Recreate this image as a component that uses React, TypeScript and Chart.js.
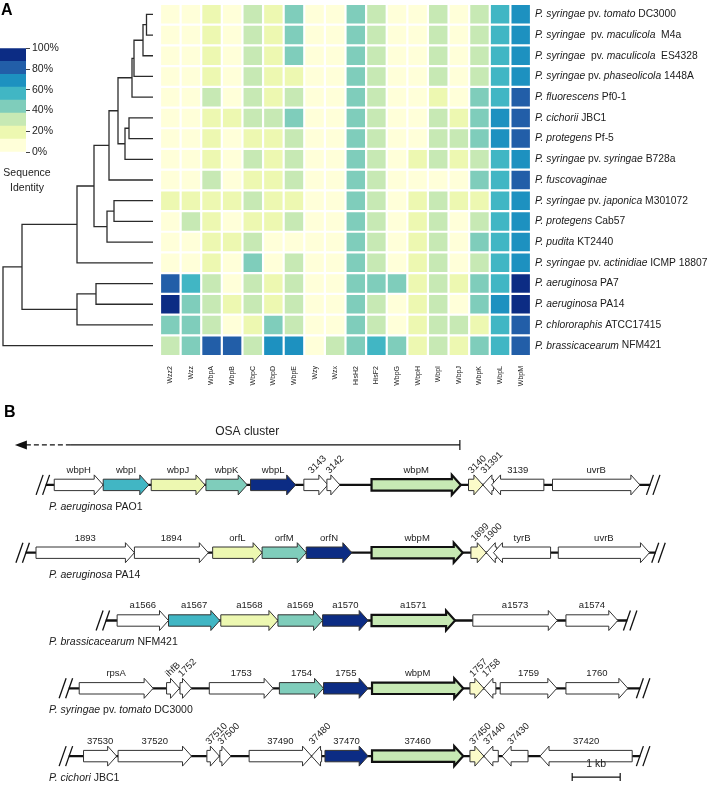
import React, { useEffect, useRef } from 'react';
import { Chart, registerables, BarController, BarElement } from 'chart.js';

Chart.register(...registerables);

const FONT = '"Liberation Sans", Arial, Helvetica, sans-serif';
Chart.defaults.font.family = FONT;
Chart.defaults.color = '#222';

// ---------------- Panel A data ----------------
const COLUMNS = ['Wzz2', 'Wzz', 'WbpA', 'WbpB', 'WbpC', 'WbpD', 'WbpE', 'Wzy', 'Wzx', 'HisH2', 'HisF2', 'WbpG', 'WbpH', 'WbpI', 'WbpJ', 'WbpK', 'WbpL', 'WbpM'];

const STRAINS = [
  '_P. syringae_ pv. _tomato_ DC3000',
  '_P. syringae_  pv. _maculicola_  M4a',
  '_P. syringae_  pv. _maculicola_  ES4328',
  '_P. syringae_ pv. _phaseolicola_ 1448A',
  '_P. fluorescens_ Pf0-1',
  '_P. cichorii_ JBC1',
  '_P. protegens_ Pf-5',
  '_P. syringae_ pv. _syringae_ B728a',
  '_P. fuscovaginae_',
  '_P. syringae_ pv. _japonica_ M301072',
  '_P. protegens_ Cab57',
  '_P. pudita_ KT2440',
  '_P. syringae_ pv. _actinidiae_ ICMP 18807',
  '_P. aeruginosa_ PA7',
  '_P. aeruginosa_ PA14',
  '_P. chlororaphis_ ATCC17415',
  '_P. brassicacearum_ NFM421',
];

// sequence identity (%) per strain (rows) and protein (columns)
const IDENTITY = [
  [6, 6, 19, 6, 31, 19, 44, 6, 6, 44, 31, 6, 6, 31, 6, 31, 56, 69],
  [6, 6, 19, 6, 31, 19, 44, 6, 6, 44, 31, 6, 6, 31, 6, 31, 56, 69],
  [6, 6, 19, 6, 31, 19, 44, 6, 6, 44, 31, 6, 6, 31, 6, 31, 56, 69],
  [6, 6, 19, 6, 31, 19, 19, 6, 6, 44, 31, 6, 6, 31, 6, 31, 56, 69],
  [6, 6, 31, 6, 31, 19, 31, 6, 6, 44, 31, 6, 6, 19, 6, 44, 56, 81],
  [6, 6, 19, 19, 31, 31, 44, 6, 6, 44, 31, 6, 6, 31, 19, 44, 69, 81],
  [6, 6, 19, 6, 19, 19, 31, 6, 6, 44, 31, 6, 6, 31, 31, 44, 69, 81],
  [6, 6, 19, 6, 31, 19, 31, 6, 6, 44, 31, 6, 19, 31, 19, 31, 56, 69],
  [6, 6, 31, 6, 19, 19, 31, 6, 6, 44, 31, 6, 6, 6, 6, 44, 56, 81],
  [19, 19, 19, 19, 31, 19, 19, 6, 6, 44, 31, 6, 19, 31, 19, 19, 56, 69],
  [6, 31, 19, 6, 19, 19, 31, 6, 6, 44, 31, 6, 19, 31, 6, 31, 56, 69],
  [6, 6, 19, 19, 31, 6, 6, 6, 6, 44, 31, 6, 19, 31, 6, 44, 56, 69],
  [6, 6, 19, 6, 44, 6, 31, 6, 6, 44, 31, 6, 19, 31, 6, 31, 56, 69],
  [81, 56, 31, 6, 31, 19, 31, 6, 6, 44, 44, 44, 19, 31, 19, 44, 56, 94],
  [94, 44, 31, 19, 31, 19, 31, 6, 6, 44, 31, 6, 19, 31, 6, 44, 69, 94],
  [44, 44, 31, 6, 19, 44, 31, 6, 6, 44, 31, 6, 19, 31, 31, 19, 56, 81],
  [31, 44, 81, 81, 31, 69, 69, 6, 31, 44, 56, 44, 19, 31, 19, 44, 56, 81],
];

// dendrogram merges: left child, right child, merge height (leaves 0..16, merge k -> node 17+k)
const DENDRO_LEFT = [0, 17, 18, 19, 5, 21, 20, 23, 9, 25, 24, 27, 13, 29, 28, 31];
const DENDRO_RIGHT = [1, 2, 3, 4, 6, 7, 22, 8, 10, 11, 26, 12, 14, 15, 30, 16];
const DENDRO_HEIGHT = [6.5, 10, 19, 21, 24, 28, 35, 44, 39, 46, 59, 76, 57, 76, 131, 150];

const LEGEND_BIN = 12.5;
const LEGEND_TICKS = [0, 20, 40, 60, 80, 100];

const BIN_COLORS = ['#ffffd9', '#edf8b1', '#c7e9b4', '#7fcdbb', '#41b6c4', '#1d91c0', '#225ea8', '#0c2c84'];
const colorFor = (v: number) => BIN_COLORS[Math.min(BIN_COLORS.length - 1, Math.floor(v / LEGEND_BIN))];

// ---------------- Panel B data (positions in kb) ----------------
const TRACKS = ['PAO1', 'PA14', 'NFM421', 'DC3000', 'JBC1'];
const TRACK_LABELS = [
  '_P. aeruginosa_ PAO1',
  '_P. aeruginosa_ PA14',
  '_P. brassicacearum_ NFM421',
  '_P. syringae_ pv. _tomato_ DC3000',
  '_P. cichori_ JBC1',
];
const BACKBONE_START = [0.96, 0.54, 2.21, 1.44, 1.44];
const BACKBONE_END = [13.54, 13.65, 13.06, 13.33, 13.33];

const PAO1_GENES = ['wbpH', 'wbpI', 'wbpJ', 'wbpK', 'wbpL', '3143', '3142', 'wbpM', '3140', '31391', '3139', 'uvrB'];
const PAO1_FROM = [1.13, 2.15, 3.15, 4.29, 5.22, 6.33, 6.81, 7.74, 9.76, 10.06, 10.24, 11.51];
const PAO1_TO = [2.15, 3.10, 4.27, 5.15, 6.16, 6.83, 7.08, 9.60, 10.06, 10.28, 11.33, 13.33];
const PAO1_STRAND = [1, 1, 1, 1, 1, 1, 1, 1, 1, -1, -1, 1];
const PAO1_HOMOLOG = ['', 'I', 'J', 'K', 'L', '', '', 'M', 'Y', '', '', ''];

const PA14_GENES = ['1893', '1894', 'orfL', 'orfM', 'orfN', 'wbpM', '1899', '1900', 'tyrB', 'uvrB'];
const PA14_FROM = [0.75, 2.80, 4.43, 5.46, 6.38, 7.74, 9.81, 10.13, 10.28, 11.63];
const PA14_TO = [2.80, 4.34, 5.46, 6.38, 7.33, 9.64, 10.13, 10.35, 11.47, 13.53];
const PA14_STRAND = [1, 1, 1, 1, 1, 1, 1, -1, -1, 1];
const PA14_HOMOLOG = ['', '', 'J', 'K', 'L', 'M', 'Y', '', '', ''];

const NFM421_GENES = ['a1566', 'a1567', 'a1568', 'a1569', 'a1570', 'a1571', 'a1573', 'a1574'];
const NFM421_FROM = [2.44, 3.51, 4.60, 5.79, 6.72, 7.74, 9.85, 11.79];
const NFM421_TO = [3.51, 4.58, 5.79, 6.72, 7.67, 9.48, 11.61, 12.87];
const NFM421_STRAND = [1, 1, 1, 1, 1, 1, 1, 1];
const NFM421_HOMOLOG = ['', 'I', 'J', 'K', 'L', 'M', '', ''];

const DC3000_GENES = ['rpsA', 'ihfB', '1752', '1753', '1754', '1755', 'wbpM', '1757', '1758', '1759', '1760'];
const DC3000_FROM = [1.65, 3.47, 3.75, 4.36, 5.82, 6.74, 7.75, 9.79, 10.08, 10.42, 11.79];
const DC3000_TO = [3.19, 3.74, 3.99, 5.69, 6.74, 7.67, 9.65, 10.08, 10.33, 11.60, 13.08];
const DC3000_STRAND = [1, 1, 1, 1, 1, 1, 1, 1, -1, 1, 1];
const DC3000_HOMOLOG = ['', '', '', '', 'K', 'L', 'M', 'Y', '', '', ''];

const JBC1_GENES = ['37530', '37520', '37510', '37500', '37490', '37480', '37470', '37460', '37450', '37440', '37430', '37420'];
const JBC1_FROM = [1.74, 2.46, 4.31, 4.58, 5.19, 6.49, 6.77, 7.75, 9.79, 10.08, 10.46, 11.25];
const JBC1_TO = [2.43, 3.99, 4.57, 4.81, 6.49, 6.70, 7.67, 9.65, 10.08, 10.38, 11.00, 13.17];
const JBC1_STRAND = [1, 1, 1, 1, 1, -1, 1, 1, 1, -1, -1, -1];
const JBC1_HOMOLOG = ['', '', '', '', '', '', 'L', 'M', 'Y', '', '', ''];

const GENE_NAMES = [PAO1_GENES, PA14_GENES, NFM421_GENES, DC3000_GENES, JBC1_GENES];
const GENE_FROM = [PAO1_FROM, PA14_FROM, NFM421_FROM, DC3000_FROM, JBC1_FROM];
const GENE_TO = [PAO1_TO, PA14_TO, NFM421_TO, DC3000_TO, JBC1_TO];
const GENE_STRAND = [PAO1_STRAND, PA14_STRAND, NFM421_STRAND, DC3000_STRAND, JBC1_STRAND];
const GENE_HOMOLOG = [PAO1_HOMOLOG, PA14_HOMOLOG, NFM421_HOMOLOG, DC3000_HOMOLOG, JBC1_HOMOLOG];

const OSA_SPAN = [0.31, 1.46, 9.58]; // arrow tip, end of dashed part, end of cluster (kb)
const OSA_LABEL_AT = 5.15;
const SCALE_BAR = [11.92, 12.92];
const KB_MAX = 14.77;

const HOMOLOG_COLOR: Record<string, string> = {
  I: '#41b6c4', J: '#edf8b1', K: '#7fcdbb', L: '#0c2c84', M: '#c7e9b4', Y: '#fbfbc9',
};

// ---------------- custom gene arrow element ----------------
class GeneArrow extends BarElement {
  static id = 'geneArrow';
  static defaults = { strand: 1, headLength: 9, bodyRatio: 0.57 };
  draw(ctx: CanvasRenderingContext2D) {
    const me: any = this;
    const { x, y, base, height } = me;
    const o: any = me.options;
    const left = Math.min(x, base);
    const right = Math.max(x, base);
    const len = right - left;
    const hl = Math.min(o.headLength, len);
    const hh = height / 2;
    const bh = hh * o.bodyRatio;
    ctx.save();
    ctx.beginPath();
    if (o.strand >= 0) {
      ctx.moveTo(left, y - bh);
      ctx.lineTo(right - hl, y - bh);
      ctx.lineTo(right - hl, y - hh);
      ctx.lineTo(right, y);
      ctx.lineTo(right - hl, y + hh);
      ctx.lineTo(right - hl, y + bh);
      ctx.lineTo(left, y + bh);
    } else {
      ctx.moveTo(right, y - bh);
      ctx.lineTo(left + hl, y - bh);
      ctx.lineTo(left + hl, y - hh);
      ctx.lineTo(left, y);
      ctx.lineTo(left + hl, y + hh);
      ctx.lineTo(left + hl, y + bh);
      ctx.lineTo(right, y + bh);
    }
    ctx.closePath();
    ctx.fillStyle = o.backgroundColor;
    ctx.fill();
    ctx.lineWidth = o.borderWidth;
    ctx.strokeStyle = o.borderColor;
    ctx.lineJoin = 'miter';
    ctx.stroke();
    ctx.restore();
  }
}

class GeneController extends BarController {
  static id = 'gene';
  static defaults = { ...(BarController as any).defaults, dataElementType: 'geneArrow' };
}

Chart.register(GeneArrow as any, GeneController as any);

// ---------------- helpers ----------------
function drawRich(ctx: CanvasRenderingContext2D, text: string, x: number, y: number, size: number, align = 'left') {
  const parts = text.split('_');
  let total = 0;
  const segs = parts.map((p, i) => {
    const font = `${i % 2 ? 'italic ' : ''}${size}px ${FONT}`;
    ctx.font = font;
    const w = ctx.measureText(p).width;
    total += w;
    return { p, font, w };
  });
  let cx = align === 'center' ? x - total / 2 : x;
  ctx.textAlign = 'left';
  segs.forEach((s) => {
    ctx.font = s.font;
    ctx.fillText(s.p, cx, y);
    cx += s.w;
  });
}

function buildDendro() {
  const xs: number[] = [];
  const ys: number[] = [];
  STRAINS.forEach((_, i) => {
    xs.push(0);
    ys.push(i + 0.5);
  });
  const ds: any[] = [];
  DENDRO_LEFT.forEach((a, k) => {
    const b = DENDRO_RIGHT[k];
    const h = DENDRO_HEIGHT[k];
    ds.push({
      data: [
        { x: xs[a], y: ys[a] },
        { x: h, y: ys[a] },
        { x: h, y: ys[b] },
        { x: xs[b], y: ys[b] },
      ],
      showLine: true,
      borderColor: '#2b2b2b',
      borderWidth: 1.3,
      pointRadius: 0,
      tension: 0,
      clip: false,
    });
    xs.push(h);
    ys.push((ys[a] + ys[b]) / 2);
  });
  return ds;
}

export default function App() {
  const dendroRef = useRef<HTMLCanvasElement>(null);
  const heatRef = useRef<HTMLCanvasElement>(null);
  const legendRef = useRef<HTMLCanvasElement>(null);
  const geneRef = useRef<HTMLCanvasElement>(null);

  useEffect(() => {
    const charts: Chart[] = [];

    // Dendrogram
    charts.push(
      new Chart(dendroRef.current!, {
        type: 'scatter',
        data: { datasets: buildDendro() },
        options: {
          animation: false,
          responsive: false,
          events: [],
          layout: { padding: { left: 0, right: 7, top: 4, bottom: 4 } },
          plugins: { legend: { display: false }, tooltip: { enabled: false } },
          scales: {
            x: { type: 'linear', min: 0, max: 153, reverse: true, display: false },
            y: { type: 'linear', min: 0, max: 17, reverse: true, display: false },
          },
        },
        plugins: [
          {
            id: 'panelA',
            afterDraw(chart: any) {
              const ctx = chart.ctx;
              ctx.save();
              ctx.fillStyle = '#000';
              ctx.font = `bold 16px ${FONT}`;
              ctx.textAlign = 'left';
              ctx.textBaseline = 'alphabetic';
              ctx.fillText('A', 1, 15);
              ctx.restore();
            },
          },
        ],
      } as any)
    );

    // Heatmap
    charts.push(
      new Chart(heatRef.current!, {
        type: 'bar',
        data: {
          labels: COLUMNS,
          datasets: IDENTITY.map((row, r) => ({
            data: row.map(() => [r, r + 1]),
            backgroundColor: row.map(colorFor),
            borderColor: '#ffffff',
            borderWidth: 1.1,
            borderSkipped: false,
            inflateAmount: 0,
            grouped: false,
            barPercentage: 1,
            categoryPercentage: 1,
          })),
        },
        options: {
          animation: false,
          responsive: false,
          events: [],
          layout: { padding: { left: 10, right: 178, top: 4, bottom: 4 } },
          plugins: { legend: { display: false }, tooltip: { enabled: false } },
          scales: {
            x: {
              type: 'category',
              offset: true,
              grid: { display: false },
              border: { display: false },
              ticks: { autoSkip: false, minRotation: 90, maxRotation: 90, padding: 2, font: { size: 7 }, color: '#222' },
              afterFit: (s: any) => {
                s.height = 40;
              },
            },
            y: { type: 'linear', min: 0, max: 17, reverse: true, display: false },
          },
        },
        plugins: [
          {
            id: 'rowLabels',
            afterDraw(chart: any) {
              const { ctx, chartArea, scales } = chart;
              ctx.save();
              ctx.fillStyle = '#1a1a1a';
              ctx.textBaseline = 'middle';
              STRAINS.forEach((s, r) => drawRich(ctx, s, chartArea.right + 4, scales.y.getPixelForValue(r + 0.5), 10.3));
              ctx.restore();
            },
          },
        ],
      } as any)
    );

    // Colour legend
    charts.push(
      new Chart(legendRef.current!, {
        type: 'bar',
        data: {
          labels: [''],
          datasets: BIN_COLORS.map((c) => ({
            data: [LEGEND_BIN],
            backgroundColor: c,
            borderWidth: 0,
            barPercentage: 1,
            categoryPercentage: 1,
          })),
        },
        options: {
          animation: false,
          responsive: false,
          events: [],
          layout: { padding: { left: 0, right: 0, top: 8, bottom: 48 } },
          plugins: { legend: { display: false }, tooltip: { enabled: false } },
          scales: {
            x: { stacked: true, display: false },
            y: {
              stacked: true,
              position: 'right',
              min: 0,
              max: 100,
              afterBuildTicks: (s: any) => {
                s.ticks = LEGEND_TICKS.map((v) => ({ value: v }));
              },
              ticks: { callback: (v: any) => `${v}%`, font: { size: 10.5 }, color: '#222', padding: 2 },
              grid: { drawOnChartArea: false, tickLength: 4, color: '#444', lineWidth: 1 },
              border: { display: false },
              afterFit: (s: any) => {
                s.width = 54;
              },
            },
          },
        },
        plugins: [
          {
            id: 'legendTitle',
            afterDraw(chart: any) {
              const ctx = chart.ctx;
              ctx.save();
              ctx.fillStyle = '#222';
              ctx.font = `10.5px ${FONT}`;
              ctx.textAlign = 'center';
              ctx.textBaseline = 'middle';
              ctx.fillText('Sequence', 27, 133);
              ctx.fillText('Identity', 27, 148);
              ctx.restore();
            },
          },
        ],
      } as any)
    );

    // Gene clusters
    const geneDatasets: any[] = [
      {
        type: 'bar',
        data: TRACKS.map((t, i) => ({ y: t, x: [BACKBONE_START[i], BACKBONE_END[i]] })),
        backgroundColor: '#111',
        borderWidth: 0,
        grouped: false,
        barPercentage: 1,
        categoryPercentage: 1,
        maxBarThickness: 1.6,
        indexAxis: 'y',
        order: 2,
      },
      ...TRACKS.map((t, ti) => ({
        type: 'gene',
        data: GENE_FROM[ti].map((s, j) => ({ y: t, x: [s, GENE_TO[ti][j]] })),
        backgroundColor: GENE_HOMOLOG[ti].map((h) => HOMOLOG_COLOR[h] || '#ffffff'),
        borderColor: GENE_HOMOLOG[ti].map((h) => (h === 'M' ? '#111' : '#333')),
        borderWidth: GENE_HOMOLOG[ti].map((h) => (h === 'M' ? 2.2 : 1)),
        strand: GENE_STRAND[ti],
        grouped: false,
        barPercentage: 1,
        categoryPercentage: 1,
        maxBarThickness: 20,
        indexAxis: 'y',
        order: 1,
      })),
    ];

    charts.push(
      new Chart(geneRef.current!, {
        type: 'bar',
        data: { labels: TRACKS, datasets: geneDatasets },
        options: {
          indexAxis: 'y',
          animation: false,
          responsive: false,
          events: [],
          layout: { padding: { left: 0, right: 0, top: 51, bottom: 14 } },
          plugins: { legend: { display: false }, tooltip: { enabled: false } },
          scales: {
            x: { type: 'linear', min: 0, max: KB_MAX, display: false },
            y: { type: 'category', offset: true, display: false },
          },
        },
        plugins: [
          {
            id: 'geneDecor',
            afterDraw(chart: any) {
              const { ctx } = chart;
              const xs = chart.scales.x;
              const ys = chart.scales.y;
              ctx.save();
              ctx.fillStyle = '#000';
              ctx.font = `bold 16px ${FONT}`;
              ctx.textAlign = 'left';
              ctx.textBaseline = 'alphabetic';
              ctx.fillText('B', 4, 17);

              // OSA cluster arrow
              const oy = ys.getPixelForValue(0) - 40;
              const tip = xs.getPixelForValue(OSA_SPAN[0]);
              const dEnd = xs.getPixelForValue(OSA_SPAN[1]);
              const end = xs.getPixelForValue(OSA_SPAN[2]);
              ctx.strokeStyle = '#111';
              ctx.lineWidth = 1.2;
              ctx.setLineDash([5, 3]);
              ctx.beginPath();
              ctx.moveTo(tip + 11, oy);
              ctx.lineTo(dEnd, oy);
              ctx.stroke();
              ctx.setLineDash([]);
              ctx.beginPath();
              ctx.moveTo(dEnd, oy);
              ctx.lineTo(end, oy);
              ctx.moveTo(end, oy - 5);
              ctx.lineTo(end, oy + 5);
              ctx.stroke();
              ctx.fillStyle = '#111';
              ctx.beginPath();
              ctx.moveTo(tip, oy);
              ctx.lineTo(tip + 12, oy - 4.5);
              ctx.lineTo(tip + 12, oy + 4.5);
              ctx.closePath();
              ctx.fill();
              ctx.fillStyle = '#222';
              ctx.font = `12px ${FONT}`;
              ctx.textAlign = 'center';
              ctx.textBaseline = 'middle';
              ctx.fillText('OSA cluster', xs.getPixelForValue(OSA_LABEL_AT), oy - 13);

              // break marks and track names
              TRACKS.forEach((_, i) => {
                const ty = ys.getPixelForValue(i);
                const s = xs.getPixelForValue(BACKBONE_START[i]);
                const e = xs.getPixelForValue(BACKBONE_END[i]);
                ctx.strokeStyle = '#111';
                ctx.lineWidth = 1.3;
                [s - 6.5, s, e, e + 6.5].forEach((cx) => {
                  ctx.beginPath();
                  ctx.moveTo(cx - 3.5, ty + 10);
                  ctx.lineTo(cx + 3.5, ty - 10);
                  ctx.stroke();
                });
                ctx.fillStyle = '#1a1a1a';
                ctx.textBaseline = 'middle';
                drawRich(ctx, TRACK_LABELS[i], 49, ty + 22, 10.5);
              });

              // gene labels
              ctx.fillStyle = '#222';
              TRACKS.forEach((_, ti) => {
                const meta = chart.getDatasetMeta(ti + 1);
                meta.data.forEach((el: any, j: number) => {
                  const name = GENE_NAMES[ti][j];
                  const cx = (el.x + el.base) / 2;
                  const len = GENE_TO[ti][j] - GENE_FROM[ti][j];
                  ctx.font = `9.5px ${FONT}`;
                  if (len < 0.6) {
                    ctx.save();
                    ctx.translate(cx - 4, el.y - 11);
                    ctx.rotate(-Math.PI / 4);
                    ctx.textAlign = 'left';
                    ctx.textBaseline = 'alphabetic';
                    ctx.fillText(name, 0, 0);
                    ctx.restore();
                  } else {
                    ctx.textAlign = 'center';
                    ctx.textBaseline = 'bottom';
                    ctx.fillText(name, cx, el.y - 10);
                  }
                });
              });

              // scale bar
              const by = ys.getPixelForValue(TRACKS.length - 1) + 21;
              const b0 = xs.getPixelForValue(SCALE_BAR[0]);
              const b1 = xs.getPixelForValue(SCALE_BAR[1]);
              ctx.strokeStyle = '#111';
              ctx.lineWidth = 1.2;
              ctx.beginPath();
              ctx.moveTo(b0, by);
              ctx.lineTo(b1, by);
              ctx.moveTo(b0, by - 4);
              ctx.lineTo(b0, by + 4);
              ctx.moveTo(b1, by - 4);
              ctx.lineTo(b1, by + 4);
              ctx.stroke();
              ctx.fillStyle = '#222';
              ctx.font = `10.5px ${FONT}`;
              ctx.textAlign = 'center';
              ctx.textBaseline = 'middle';
              ctx.fillText('1 kb', (b0 + b1) / 2, by - 13);
              ctx.restore();
            },
          },
        ],
      } as any)
    );

    return () => charts.forEach((c) => c.destroy());
  }, []);

  const abs = (left: number, top: number, width: number, height: number): React.CSSProperties => ({
    position: 'absolute',
    left,
    top,
    width,
    height,
  });

  return (
    <div style={{ position: 'absolute', left: 0, top: 0, width: 709, height: 804, background: '#fff', overflow: 'hidden' }}>
      <canvas ref={dendroRef} width={160} height={360} style={abs(0, 0, 160, 360)} />
      <canvas ref={legendRef} width={80} height={160} style={abs(0, 40, 80, 160)} />
      <canvas ref={heatRef} width={559} height={400} style={abs(150, 0, 559, 400)} />
      <canvas ref={geneRef} width={709} height={404} style={abs(0, 400, 709, 404)} />
    </div>
  );
}
